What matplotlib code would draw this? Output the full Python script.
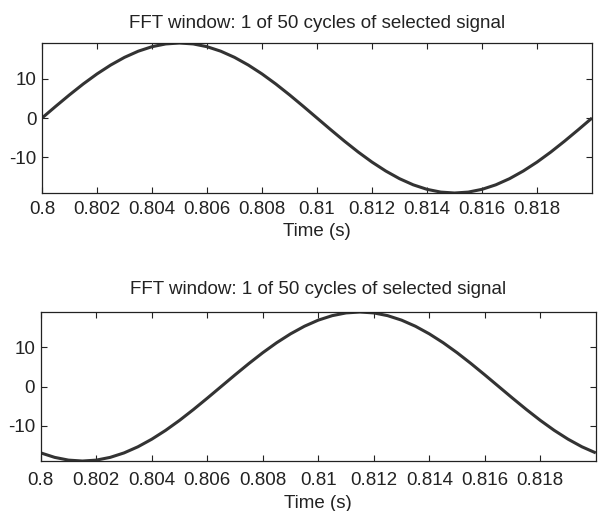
import numpy as np
import matplotlib
matplotlib.use('Agg')
from matplotlib import pyplot as plt

# time axis: one 50 Hz cycle, sampled every 0.5 ms
t = [0.8 + 0.0005 * k for k in range(41)]

# signal values
top_signal = [0.0, 2.97, 5.87, 8.63, 11.17, 13.43, 15.37, 16.93, 18.07, 18.77,
              19.0, 18.77, 18.07, 16.93, 15.37, 13.43, 11.17, 8.63, 5.87, 2.97,
              0.0, -2.97, -5.87, -8.63, -11.17, -13.43, -15.37, -16.93, -18.07, -18.77,
              -19.0, -18.77, -18.07, -16.93, -15.37, -13.43, -11.17, -8.63, -5.87, -2.97,
              0.0]
bottom_signal = [-16.93, -18.07, -18.77, -19.0, -18.77, -18.07, -16.93, -15.37, -13.43, -11.17,
                 -8.63, -5.87, -2.97, 0.0, 2.97, 5.87, 8.63, 11.17, 13.43, 15.37,
                 16.93, 18.07, 18.77, 19.0, 18.77, 18.07, 16.93, 15.37, 13.43, 11.17,
                 8.63, 5.87, 2.97, 0.0, -2.97, -5.87, -8.63, -11.17, -13.43, -15.37,
                 -16.93]

xticks = [0.8, 0.802, 0.804, 0.806, 0.808, 0.81, 0.812, 0.814, 0.816, 0.818]
xtick_labels = ['0.8', '0.802', '0.804', '0.806', '0.808', '0.81', '0.812', '0.814', '0.816', '0.818']
yticks = [-10, 0, 10]
title = 'FFT window: 1 of 50 cycles of selected signal'

plt.rcParams['font.family'] = ['Liberation Sans', 'DejaVu Sans']
plt.rcParams['axes.unicode_minus'] = False

fig = plt.figure(figsize=(6.0, 5.11), dpi=100)
ax1 = fig.add_axes([0.070, 0.6223, 0.9167, 0.2935])
ax2 = fig.add_axes([0.068, 0.0978, 0.925, 0.2916])

for ax, sig, xpad, tpad in ((ax1, top_signal, 5.5, 11), (ax2, bottom_signal, 8.0, 13)):
    ax.plot(t, sig, color='#333333', lw=2.2, solid_capstyle='butt')
    ax.set_xlim(0.8, 0.82)
    ax.set_ylim(min(sig), max(sig))
    ax.set_xticks(xticks)
    ax.set_xticklabels(xtick_labels)
    ax.set_yticks(yticks)
    ax.tick_params(direction='in', top=True, right=True, length=4, width=0.8,
                   labelsize=13.5, colors='#222222')
    ax.tick_params(axis='x', pad=xpad)
    ax.tick_params(axis='y', pad=4)
    for s in ax.spines.values():
        s.set_linewidth(0.9)
        s.set_color('#222222')
    ax.set_title(title, fontsize=13.5, pad=tpad, color='#222222')
    ax.set_xlabel('Time (s)', fontsize=13.5, labelpad=4, color='#222222')

fig.savefig('out.png', dpi=100)
